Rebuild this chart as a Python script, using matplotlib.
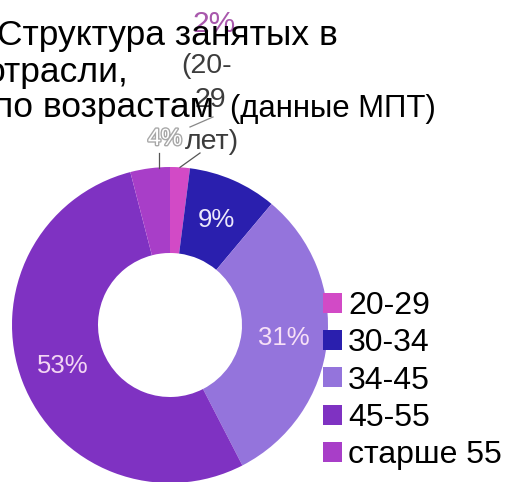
import numpy as np
import matplotlib
matplotlib.use("Agg")
import matplotlib.pyplot as plt
from matplotlib.patches import Patch
import matplotlib.patheffects as pe

plt.rcParams['font.family'] = ['Liberation Sans', 'DejaVu Sans']

categories = ["20-29", "30-34", "34-45", "45-55", "старше 55"]
values = [2, 9, 31, 53, 4]
pct_labels = ["2%", "9%", "31%", "53%", "4%"]
colors = ["#d24ac6", "#2a1fae", "#9474dc", "#7f32c2", "#a83ec8"]
title_lines = ["Структура занятых в", "отрасли,", "по возрастам", "(данные МПТ)"]
small_label_lines = ["(20-", "29", "лет)"]

W, H = 508, 482
fig = plt.figure(figsize=(W / 100, H / 100), dpi=100)
ax = fig.add_axes([0, 0, 1, 1])

cx, cy, R, r_in = 170, H - 325, 158, 72
wedges, _ = ax.pie(values, colors=colors, startangle=90, counterclock=False,
                   center=(cx, cy), radius=R,
                   wedgeprops=dict(width=R - r_in, linewidth=0))
ax.set_xlim(0, W)
ax.set_ylim(0, H)
ax.set_aspect('equal')
ax.axis('off')

def pos(w, rr):
    a = np.deg2rad((w.theta1 + w.theta2) / 2)
    return cx + rr * np.cos(a), cy + rr * np.sin(a)

# inside labels
inner_colors = {1: "#ece8fa", 2: "#f7e0f7", 3: "#f3d6f3"}
rmid = (R + r_in) / 2
for i, c in inner_colors.items():
    x, y = pos(wedges[i], rmid)
    ax.text(x, y, pct_labels[i], ha='center', va='center', fontsize=18.5, color=c)

# outside label 4%
x0, y0 = pos(wedges[4], R)
ax.plot([x0 + 9, x0 + 9], [y0, H - 153], color='#555555', lw=0.9)
ax.text(165, H - 139, pct_labels[4], ha='center', va='center', fontsize=17,
        color='white', zorder=3,
        path_effects=[pe.withStroke(linewidth=2, foreground='#a8a8a8')])

# outside label 2% (20-29 лет)
x0, y0 = pos(wedges[0], R)
ax.plot([x0, 200], [y0, H - 153], color='#555555', lw=0.9)
ax.plot([190, 213], [H - 127, H - 117], color='#888888', lw=0.9)
ax.text(214, H - 32, pct_labels[0], ha='center', va='baseline', fontsize=21.5,
        color='#a858ac', zorder=2)
for txt, xx, yb in zip(small_label_lines, [207, 210, 212], [73, 107, 149]):
    ax.text(xx, H - yb, txt, ha='center', va='baseline', fontsize=20.5,
            color='#3c3c3c', zorder=4)

# title
ax.text(338, H - 45, title_lines[0], ha='right', va='baseline', fontsize=25.5,
        color='black', zorder=5)
ax.text(128, H - 82, title_lines[1], ha='right', va='baseline', fontsize=25.5,
        color='black', zorder=5)
ax.text(214, H - 117, title_lines[2], ha='right', va='baseline', fontsize=25.5,
        color='black', zorder=5)
ax.text(230, H - 117, title_lines[3], ha='left', va='baseline', fontsize=22.4,
        color='black', zorder=5)

handles = [Patch(facecolor=c, edgecolor='none') for c in colors]
leg = ax.legend(handles, categories, loc='upper left',
                bbox_to_anchor=(323 / W, 1 - 291 / H), bbox_transform=fig.transFigure,
                frameon=False, fontsize=23, handlelength=0.58, handleheight=0.58,
                handletextpad=0.2, labelspacing=0.23, borderpad=0, borderaxespad=0)

fig.savefig("out.png", dpi=100)
